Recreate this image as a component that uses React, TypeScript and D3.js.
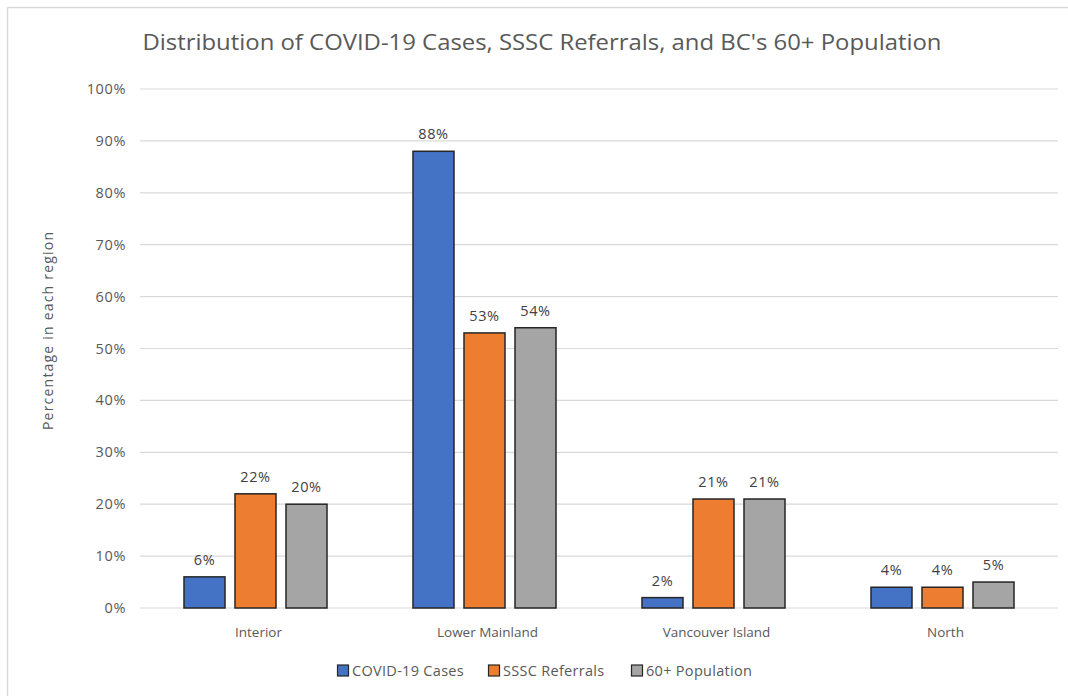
import React from "react";
import * as d3 from "d3";

const categories = ["Interior", "Lower Mainland", "Vancouver Island", "North"];
const seriesNames = ["COVID-19 Cases", "SSSC Referrals", "60+ Population"];
const covidCases = [6, 88, 2, 4];
const ssscReferrals = [22, 53, 21, 4];
const population60 = [20, 54, 21, 5];
const yTicks = [0, 10, 20, 30, 40, 50, 60, 70, 80, 90, 100];
const colors = ["#4472C4", "#ED7D31", "#A5A5A5"];

const W = 1068;
const H = 696;
const FONT = "'Open Sans', 'Noto Sans', sans-serif";
const TXT = "#595959";

export default function App() {
  const seriesValues = [covidCases, ssscReferrals, population60];
  const x0 = d3.scaleBand<string>().domain(categories).range([141, 1057]).paddingInner(0).paddingOuter(0);
  const x1 = d3
    .scaleBand<string>()
    .domain(seriesNames)
    .range([0, x0.bandwidth()])
    .paddingInner(0.196)
    .paddingOuter(0.843);
  const y = d3.scaleLinear().domain([0, 100]).range([608, 89]);

  return (
    <svg
      width={W}
      height={H}
      style={{ position: "absolute", left: 0, top: 0, background: "#fff" }}
      fontFamily={FONT}
    >
      <rect x={0} y={0} width={W} height={H} fill="#fff" />
      {/* chart border */}
      <line x1={7.5} y1={7.5} x2={W} y2={7.5} stroke="#d9d9d9" strokeWidth={1.5} />
      <line x1={7.5} y1={7.5} x2={7.5} y2={H} stroke="#d9d9d9" strokeWidth={1.5} />

      <text x={542} y={50} textAnchor="middle" fontSize={21} fill={TXT} textLength={799} lengthAdjust="spacingAndGlyphs">
        Distribution of COVID-19 Cases, SSSC Referrals, and BC's 60+ Population
      </text>

      {yTicks.map((t) => (
        <g key={t}>
          <line x1={140} x2={1058} y1={y(t)} y2={y(t)} stroke="#d9d9d9" strokeWidth={1.2} />
          <text x={126} y={y(t)} dy="0.35em" textAnchor="end" fontSize={14.5} letterSpacing={0.6} fill={TXT}>
            {t}%
          </text>
        </g>
      ))}

      <text
        transform={`translate(48,331) rotate(-90)`}
        textAnchor="middle"
        fontSize={14}
        fill={TXT}
        dy="0.35em"
        textLength={198}
        lengthAdjust="spacing"
      >
        Percentage in each region
      </text>

      {categories.map((c, ci) => (
        <g key={c} transform={`translate(${x0(c)},0)`}>
          {seriesNames.map((s, si) => {
            const v = seriesValues[si][ci];
            const bx = x1(s)!;
            return (
              <g key={s}>
                <rect
                  x={bx}
                  y={y(v)}
                  width={x1.bandwidth()}
                  height={y(0) - y(v)}
                  fill={colors[si]}
                  stroke="#262626"
                  strokeWidth={1.5}
                />
                <text
                  x={bx + x1.bandwidth() / 2}
                  y={y(v) - 12}
                  textAnchor="middle"
                  fontSize={14.5}
                  letterSpacing={0.6}
                  fill="#404040"
                >
                  {v}%
                </text>
              </g>
            );
          })}
          <text x={x0.bandwidth() / 2 + 3} y={637} textAnchor="middle" fontSize={13.5} fill={TXT}>
            {c}
          </text>
        </g>
      ))}

      {/* legend */}
      {seriesNames.map((s, si) => {
        const lx = [337, 488, 631][si];
        return (
          <g key={s}>
            <rect x={lx + 0.5} y={665} width={11} height={11} fill={colors[si]} stroke="#262626" strokeWidth={1.2} />
            <text x={lx + 15} y={670.5} dy="0.35em" fontSize={14.5} letterSpacing={0.3} fill={TXT}>
              {s}
            </text>
          </g>
        );
      })}
    </svg>
  );
}
